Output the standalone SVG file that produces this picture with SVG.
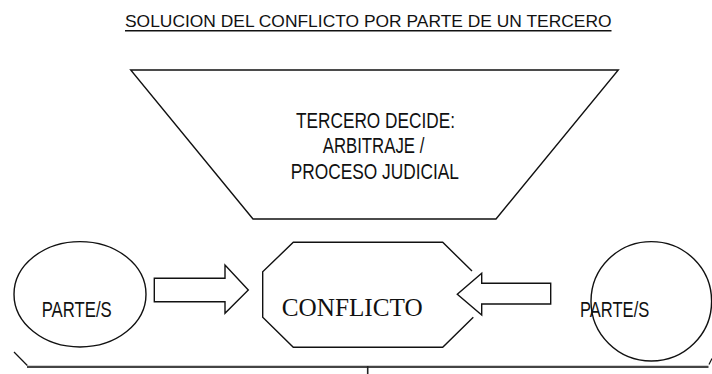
<svg xmlns="http://www.w3.org/2000/svg" width="712" height="374" viewBox="0 0 712 374">
<style>
.s{fill:#fff;stroke:#111;stroke-width:1.4;stroke-linejoin:miter}
.o{fill:none;stroke:#111;stroke-width:1.4}
.t{font-family:"Liberation Sans",Arial,sans-serif;font-size:22px;fill:#111}
.ttl{font-family:"Liberation Sans",Arial,sans-serif;font-size:17.3px;fill:#111}
.cf{font-family:"Liberation Serif","Times New Roman",serif;font-size:25px;fill:#111}
</style>
<rect width="712" height="374" fill="#fff"/>
<g id="title">
<text class="ttl" x="125" y="26.7" textLength="486.5" lengthAdjust="spacingAndGlyphs">SOLUCION DEL CONFLICTO POR PARTE DE UN TERCERO</text>
<line x1="125" y1="30.7" x2="611.5" y2="30.7" stroke="#111" stroke-width="1.4"/>
</g>
<g id="tercero">
<polygon class="s" points="130.7,70 618.3,70 496,219 253,219"/>
<text class="t" x="296" y="127.7" textLength="159" lengthAdjust="spacingAndGlyphs">TERCERO DECIDE:</text>
<text class="t" x="322.7" y="152.7" textLength="101.6" lengthAdjust="spacingAndGlyphs">ARBITRAJE /</text>
<text class="t" x="290.7" y="178.5" textLength="168.3" lengthAdjust="spacingAndGlyphs">PROCESO JUDICIAL</text>
</g>
<g id="parte-izq">
<ellipse class="s" cx="80" cy="294.3" rx="66" ry="52.7"/>
<text class="t" x="41.7" y="317" textLength="70" lengthAdjust="spacingAndGlyphs">PARTE/S</text>
</g>
<g id="conflicto">
<path class="s" d="M472,271 L442.7,242.3 L293.3,242.3 L262.7,271.7 L262.7,317.3 L293.3,347.3 L442.7,347.3 L473.3,317.3"/>
<text class="cf" x="281.7" y="316" textLength="141" lengthAdjust="spacingAndGlyphs">CONFLICTO</text>
</g>
<g id="parte-der">
<ellipse class="o" cx="651.3" cy="301.3" rx="60.3" ry="59.7"/>
<text class="t" x="580" y="317.3" textLength="69.3" lengthAdjust="spacingAndGlyphs">PARTE/S</text>
</g>
<g id="connectors">
<polygon class="s" points="154.3,278.3 225,278.3 225,265 248.3,290 225,313.3 225,301.7 154.3,301.7"/>
<polygon class="s" points="550.7,283.3 481.7,283.3 481.7,273.3 457.3,294.2 481.7,315 481.7,304 550.7,304"/>
</g>
<g id="brace">
<line x1="14" y1="352" x2="27.3" y2="365.5" stroke="#111" stroke-width="1.2"/>
<line x1="27" y1="366.8" x2="708.5" y2="366.8" stroke="#444" stroke-width="2.2"/>
<line x1="709" y1="364.5" x2="712" y2="358.5" stroke="#111" stroke-width="1.2"/>
<line x1="367.7" y1="366" x2="367.7" y2="374" stroke="#222" stroke-width="1.6"/>
</g>
</svg>
